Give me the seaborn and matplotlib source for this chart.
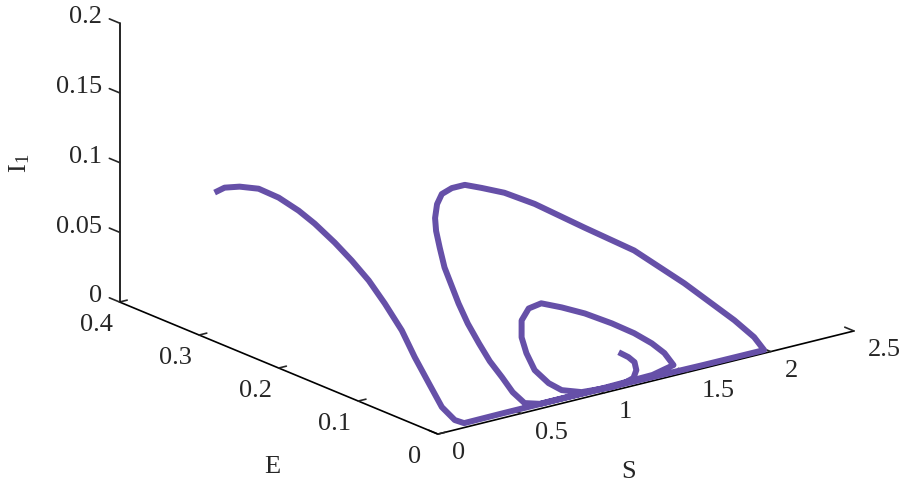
import numpy as np
import pandas as pd
import matplotlib
matplotlib.use("Agg")
import matplotlib.pyplot as plt
import seaborn as sns

# trajectory values (S, E, I1)
S = [0.050, 0.055, 0.060, 0.066, 0.072, 0.078, 0.084, 0.090, 0.096, 0.102, 0.108,
     0.114, 0.120, 0.126, 0.132, 0.140, 0.160,
     0.40, 0.80, 1.20, 1.60, 1.965,
     1.927, 1.839, 1.610, 1.375, 1.126, 0.878, 0.725, 0.602, 0.511, 0.433, 0.368,
     0.325, 0.294, 0.281, 0.279, 0.279, 0.306, 0.328, 0.362, 0.398, 0.443, 0.483, 0.535,
     0.62, 1.00, 1.30, 1.430,
     1.397, 1.338, 1.256, 1.141, 1.003, 0.882, 0.774, 0.694, 0.637, 0.613, 0.618,
     0.639, 0.699, 0.763, 0.873,
     1.049, 1.128, 1.186, 1.214, 1.215, 1.188, 1.139]
E = [0.2910, 0.2795, 0.2617, 0.2390, 0.2151, 0.1912, 0.1723, 0.1484, 0.1283, 0.1082, 0.0893,
     0.0692, 0.0541, 0.0377, 0.0226, 0.0080, 0.0005,
     0.001, 0.001, 0.001, 0.001, 0.001,
     0.0056, 0.012, 0.027, 0.041, 0.051, 0.062, 0.068, 0.071, 0.073, 0.073, 0.072,
     0.069, 0.065, 0.061, 0.056, 0.050, 0.038, 0.031, 0.024, 0.018, 0.012, 0.007, 0.003,
     0.0015, 0.0015, 0.002, 0.003,
     0.0075, 0.011, 0.016, 0.020, 0.025, 0.029, 0.032, 0.031, 0.028, 0.023, 0.018,
     0.012, 0.007, 0.004, 0.002,
     0.0012, 0.0015, 0.0023, 0.0045, 0.007, 0.009, 0.011]
I1 = [0.1028, 0.1089, 0.1137, 0.1174, 0.1165, 0.1126, 0.1076, 0.0995, 0.0912, 0.0815, 0.0693,
      0.0546, 0.0387, 0.0238, 0.0101, 0.0040, 0.0030,
      0.003, 0.003, 0.0025, 0.002, 0.0019,
      0.0112, 0.0244, 0.0541, 0.0813, 0.1026, 0.1244, 0.1355, 0.1419, 0.1463, 0.1463, 0.1442,
      0.1389, 0.1308, 0.1229, 0.1121, 0.0994, 0.0756, 0.0622, 0.0486, 0.0362, 0.0248, 0.0141, 0.0057,
      0.003, 0.003, 0.0035, 0.0065,
      0.0150, 0.0229, 0.0314, 0.0409, 0.0509, 0.0579, 0.0633, 0.0622, 0.0560, 0.0458, 0.0355,
      0.0241, 0.0142, 0.0080, 0.0038,
      0.0024, 0.0029, 0.0046, 0.0089, 0.0140, 0.0179, 0.0224]

s_ticks = [0, 0.5, 1, 1.5, 2, 2.5]
s_labels = ["0", "0.5", "1", "1.5", "2", "2.5"]
e_ticks = [0, 0.1, 0.2, 0.3, 0.4]
e_labels = ["0", "0.1", "0.2", "0.3", "0.4"]
i_ticks = [0, 0.05, 0.1, 0.15, 0.2]
i_labels = ["0", "0.05", "0.1", "0.15", "0.2"]

df = pd.DataFrame({"S": S, "E": E, "I1": I1})

sns.set_style("white")
plt.rcParams["font.family"] = ["Liberation Serif", "DejaVu Serif"]
plt.rcParams["mathtext.fontset"] = "stix"

fig = plt.figure(figsize=(9, 4.89), dpi=100)
# big square 3d axes (900 px), centred where the reference box centre is
ax = fig.add_axes([0.0273, -0.3092, 1.0, 900 / 489], projection="3d", proj_type="ortho")
ax.view_init(elev=18.7, azim=-127.7)
ax.set_box_aspect((1, 0.99, 0.56), zoom=0.859)

ax.plot(df["S"], df["E"], df["I1"], color="#6650a8", lw=4.3,
        solid_capstyle="butt", solid_joinstyle="round", clip_on=False)

ax.set_xlim(0, 2.5)
ax.set_ylim(0, 0.4)
ax.set_zlim(0, 0.2)
ax.set_xticks(s_ticks)
ax.set_xticklabels(s_labels, ha="left", va="center")
ax.set_yticks(e_ticks)
ax.set_yticklabels(e_labels, ha="center", va="center")
ax.set_zticks(i_ticks)
ax.set_zticklabels(i_labels, ha="right", va="baseline")
ax.tick_params(labelsize=19)
ax.xaxis.set_tick_params(pad=7)
ax.yaxis.set_tick_params(pad=11)
ax.zaxis.set_tick_params(pad=0)
# I1 ticks point along E, like the reference
ax.zaxis._get_tickdir = lambda position: 1

fig.text(0.698, 0.035, "S", fontsize=19, ha="center", va="center")
fig.text(0.302, 0.045, "E", fontsize=19, ha="center", va="center")
fig.text(0.022, 0.667, r"I$_{\mathregular{1}}$", fontsize=19, rotation=90,
         ha="center", va="center")

ax.grid(False)
for axis, f in ((ax.xaxis, 0.36), (ax.yaxis, 0.23), (ax.zaxis, 0.4)):
    axis.set_pane_color((1, 1, 1, 0))
    axis.pane.set_edgecolor("none")
    axis.line.set_color("black")
    axis.line.set_linewidth(1.2)
    axis._axinfo["tick"]["inward_factor"] = 0.0
    axis._axinfo["tick"]["outward_factor"] = f
    axis._axinfo["tick"]["linewidth"] = {True: 1.2, False: 1.0}

fig.savefig("out.png", dpi=100)
